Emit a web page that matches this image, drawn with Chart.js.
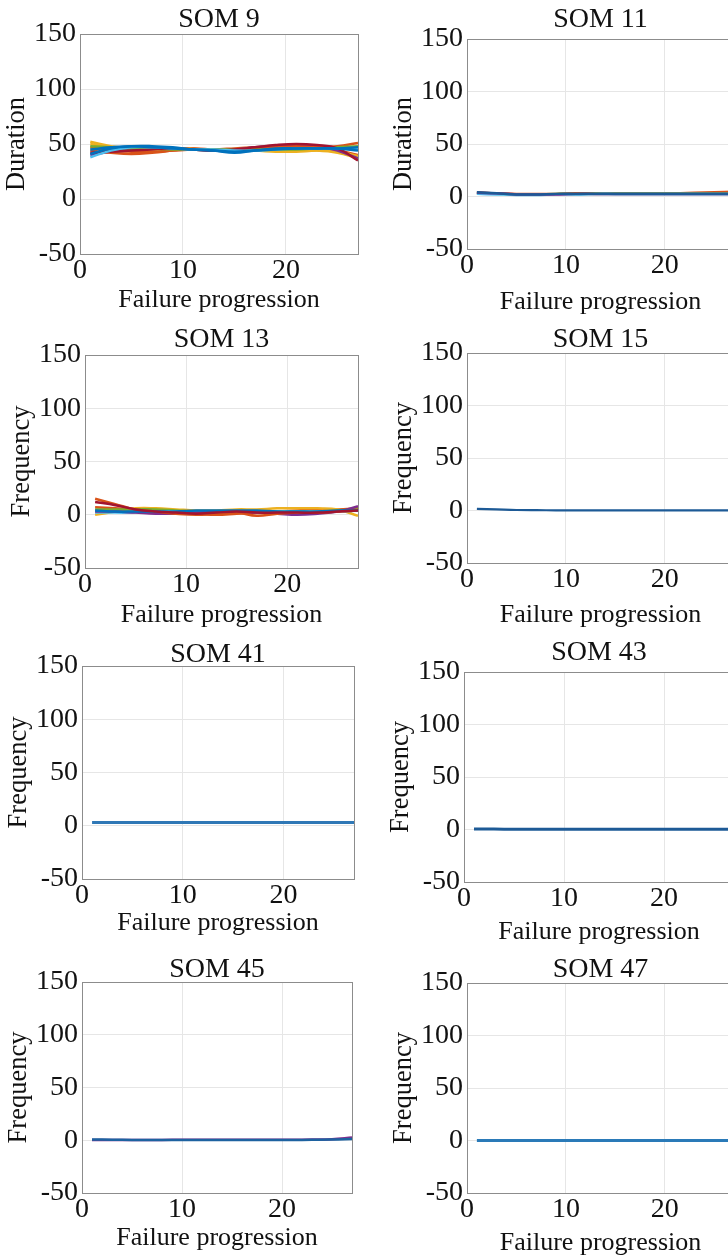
<!DOCTYPE html>
<html>
<head>
<meta charset="utf-8">
<script src="https://cdn.jsdelivr.net/npm/chart.js@4.4.0/dist/chart.umd.min.js"></script>
<style>
  html, body { margin: 0; padding: 0; background: #fff; overflow: hidden; }
  body { width: 728px; height: 1260px; position: relative; }
  canvas { position: absolute; }
</style>
</head>
<body>
<script>
// failure progression steps (x) and axis ticks
const steps = [1, 3, 5, 7, 9, 11, 13, 15, 17, 19, 21, 23, 25, 27];
const xTicks = [0, 10, 20];
const yTicks = [-50, 0, 50, 100, 150];

const somTitles = ['SOM 9', 'SOM 11', 'SOM 13', 'SOM 15', 'SOM 41', 'SOM 43', 'SOM 45', 'SOM 47'];
const yLabels = ['Duration', 'Duration', 'Frequency', 'Frequency', 'Frequency', 'Frequency', 'Frequency', 'Frequency'];

// values (last row of each panel is drawn on top)
const som9 = [
  [47, 44, 43, 43, 44, 45, 45, 46, 47, 48, 48, 46, 44, 40],
  [50, 47, 46, 45, 46, 46, 44, 44, 44, 43, 43, 44, 43, 39],
  [52, 48, 46, 46, 46, 45, 44, 45, 45, 44, 44, 44, 42, 37],
  [40, 43, 45, 46, 46, 45, 44, 45, 47, 48, 49, 48, 44, 37],
  [44, 42, 41, 42, 44, 46, 45, 45, 46, 47, 48, 47, 48, 51],
  [48, 47, 46, 46, 45, 45, 45, 45, 45, 45, 45, 46, 47, 48],
  [42, 43, 44, 45, 46, 45, 44, 45, 47, 49, 50, 49, 46, 35],
  [38, 44, 47, 47, 46, 45, 45, 44, 44, 45, 46, 46, 46, 45],
  [45, 47, 48, 47, 46, 45, 44, 42, 44, 46, 46, 46, 46, 47],
  [41, 46, 48, 48, 47, 45, 44, 43, 44, 45, 46, 46, 46, 44]
];
const som11 = [
  [4, 3, 2.5, 2.5, 2.5, 3, 3, 3, 3, 3, 3, 3.5, 4, 4.5],
  [3, 2.5, 2, 2, 2.5, 2.5, 3, 3, 3, 3, 3, 3, 3, 3],
  [2.5, 2, 1.5, 1.5, 2, 2, 2.5, 2.5, 2.5, 2.5, 2.5, 2.5, 2.5, 2.5],
  [3.5, 3, 2, 2, 2, 2.5, 2.5, 2.5, 2.5, 2.5, 2.5, 2.5, 2.5, 2.5],
  [4, 3, 2, 2, 2.5, 2.5, 2.5, 2.5, 2.5, 2.5, 2.5, 2.5, 2.5, 2.5]
];
const som13 = [
  [7, 6, 5, 4, 2, 1, 0, 1, 2, 3, 4, 5, 5, 6],
  [0, 3, 6, 6, 5, 4, 4, 5, 5, 6, 6, 6, 5, -1],
  [5, 5, 5, 5, 4, 3, 3, 3, 3, 3, 3, 3, 4, 5],
  [2, 2, 2, 3, 3, 3, 3, 3, 3, 3, 3, 3, 3, 4],
  [3, 3, 2, 1, 1, 2, 3, 3, 2, 1, 0, 1, 3, 8],
  [15, 10, 5, 3, 1, 0, 1, 2, -1, 1, 2, 2, 3, 4],
  [4, 3, 3, 3, 3, 4, 4, 4, 4, 3, 3, 3, 4, 4],
  [12, 9, 5, 3, 2, 1, 2, 3, 2, 2, 2, 2, 3, 4]
];
const som15 = [
  [1.5, 1, 0.5, 0.3, 0.2, 0.2, 0.2, 0.2, 0.2, 0.2, 0.2, 0.2, 0.2, 0.2]
];
const som41 = [
  [3, 3, 3, 3, 3, 3, 3, 3, 3, 3, 3, 3, 3, 3]
];
const som43 = [
  [0.5, 0.4, 0.3, 0.3, 0.3, 0.3, 0.3, 0.3, 0.3, 0.3, 0.3, 0.3, 0.3, 0.3]
];
const som45 = [
  [0.3, 0.3, 0.3, 0.3, 0.4, 0.4, 0.4, 0.4, 0.4, 0.4, 0.5, 0.6, 0.9, 2.5],
  [0.8, 0.5, 0.3, 0.2, 0.2, 0.2, 0.2, 0.2, 0.2, 0.2, 0.3, 0.4, 0.6, 1.2]
];
const som47 = [
  [0, 0, 0, 0, 0, 0, 0, 0, 0, 0, 0, 0, 0, 0]
];
const panelSeries = [som9, som11, som13, som15, som41, som43, som45, som47];

// styles
const blue = '#0072BD', orange = '#D95319', yellow = '#EDB120', purple = '#7E2F8E',
      green = '#77AC30', cyan = '#4DBEEE', darkred = '#A2142F';
const panelColors = [
  [orange, yellow, yellow, purple, orange, green, darkred, cyan, blue, blue],
  [orange, green, cyan, purple, '#1d5a96'],
  [orange, yellow, green, cyan, purple, orange, blue, darkred],
  ['#1d5a96'],
  ['#2f78b6'],
  ['#1d5a96'],
  [purple, '#1d62a0'],
  ['#2a7ab8']
];
const lineWidths = [2.5, 2.5, 2.5, 2.2, 3, 3, 2.5, 3];

// plot box of every panel (page pixels)
const boxes = [
  {L: 80,  T: 34,  R: 358, B: 254,  titleY: 20,  labelY: 300},
  {L: 467, T: 39,  R: 734, B: 249,  titleY: 20,  labelY: 302},
  {L: 85,  T: 355, R: 358, B: 568,  titleY: 340, labelY: 615},
  {L: 467, T: 353, R: 734, B: 563,  titleY: 340, labelY: 615},
  {L: 82,  T: 666, R: 354, B: 879,  titleY: 655, labelY: 923},
  {L: 464, T: 672, R: 734, B: 882,  titleY: 653, labelY: 932},
  {L: 82,  T: 982, R: 352, B: 1193, titleY: 970, labelY: 1238},
  {L: 467, T: 983, R: 734, B: 1193, titleY: 970, labelY: 1243}
];

const serif = '"Liberation Serif", "Times New Roman", serif';
const axisGray = '#8c8c8c';
const gridGray = '#e6e6e6';

const plotBg = {
  id: 'plotBg',
  beforeDraw(chart) {
    const a = chart.chartArea;
    chart.ctx.save();
    chart.ctx.fillStyle = '#fff';
    chart.ctx.fillRect(a.left, a.top, a.right - a.left, a.bottom - a.top);
    chart.ctx.restore();
  }
};

function makePanel(i) {
  const box = boxes[i];
  const top = box.titleY - 20;
  const bottom = box.labelY + 18;
  const left = box.L - 80;

  const canvas = document.createElement('canvas');
  canvas.width = box.R - box.L + 90;
  canvas.height = bottom - top;
  canvas.style.left = left + 'px';
  canvas.style.top = top + 'px';
  document.body.appendChild(canvas);

  const datasets = panelSeries[i].map(function (vals, k) {
    return {
      data: steps.map((s, j) => ({x: s, y: vals[j]})),
      borderColor: panelColors[i][k],
      borderWidth: lineWidths[i],
      pointRadius: 0,
      tension: 0.4,
      fill: false
    };
  });
  // chart.js paints dataset 0 last, so flip to keep the last row on top
  datasets.reverse();

  new Chart(canvas.getContext('2d'), {
    type: 'line',
    data: {datasets: datasets},
    plugins: [plotBg],
    options: {
      responsive: false,
      animation: false,
      devicePixelRatio: 1,
      layout: {autoPadding: false, padding: 0},
      plugins: {legend: {display: false}, tooltip: {enabled: false}},
      scales: {
        x: {
          type: 'linear', position: 'bottom', min: 0, max: 27,
          afterBuildTicks: s => { s.ticks = xTicks.map(v => ({value: v})); },
          afterFit: s => { s.height = bottom - box.B; },
          grid: {color: gridGray, drawTicks: false},
          border: {color: axisGray, width: 1},
          ticks: {font: {family: serif, size: 28}, color: '#111', padding: 0, maxRotation: 0, autoSkip: false},
          title: {display: true, text: 'Failure progression', font: {family: serif, size: 26}, color: '#111', padding: {top: 0, bottom: 2}}
        },
        x2: {
          type: 'linear', position: 'top', min: 0, max: 27,
          afterFit: s => { s.height = box.T - top; },
          grid: {display: false},
          border: {color: axisGray, width: 1},
          ticks: {display: false},
          title: {display: true, text: somTitles[i], font: {family: serif, size: 28}, color: '#111', padding: {top: 3, bottom: 0}}
        },
        y: {
          type: 'linear', position: 'left', min: -50, max: 150,
          afterBuildTicks: s => { s.ticks = yTicks.map(v => ({value: v})); },
          afterFit: s => { s.width = 80; },
          grid: {color: gridGray, drawTicks: false},
          border: {color: axisGray, width: 1},
          ticks: {font: {family: serif, size: 28}, color: '#111', padding: 4},
          title: {display: true, text: yLabels[i], font: {family: serif, size: 26.5}, color: '#111', padding: {top: 1, bottom: 0}}
        },
        y2: {
          type: 'linear', position: 'right', min: -50, max: 150,
          afterFit: s => { s.width = 10; },
          grid: {display: false},
          border: {color: axisGray, width: 1},
          ticks: {display: false}
        }
      }
    }
  });
}

for (let i = 0; i < boxes.length; i++) {
  makePanel(i);
}
</script>
</body>
</html>
